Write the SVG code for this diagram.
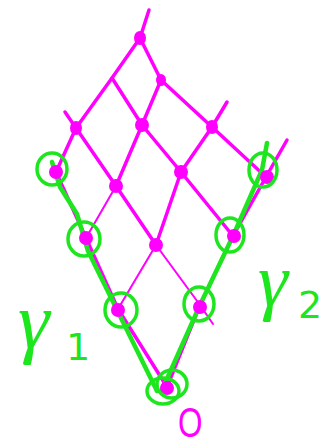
<svg xmlns="http://www.w3.org/2000/svg" width="332" height="448" viewBox="0 0 332 448">
<style>
.m{stroke:#f0f;stroke-width:3.5;fill:none;stroke-linecap:round;stroke-linejoin:round}
.mt{stroke:#f0f;stroke-width:2;fill:none;stroke-linecap:round}
.dot{fill:#f0f;stroke:#f0f;stroke-width:2}
.g{stroke:#1ee61e;stroke-width:4.5;fill:none;stroke-linecap:round;stroke-linejoin:round}
.gc{stroke:#1ee61e;stroke-width:3.5;fill:none}
.lbl{font-family:"Liberation Serif",serif;font-style:italic;fill:#1ee61e}
.num{font-family:"DejaVu Sans",sans-serif;fill:#1ee61e}
</style>
<rect width="332" height="448" fill="#fff"/>
<g id="connectors">
<polyline class="m" points="56,172 76,128 112,78 140,38 149,10"/>
<polyline class="mt" points="86,238 116,186"/>
<polyline class="m" points="116,186 142,125 161,80"/>
<polyline class="mt" points="118,309 156,245"/>
<polyline class="m" points="156,245 181,172 212,127 227,102"/>
<polyline class="m" points="167,387 200,305 233,236 266,177 287,140"/>
<polyline class="m" points="167,387 118,309 86,238 56,172"/>
<polyline class="mt" points="213,324 200,305 156,245"/>
<polyline class="m" points="156,245 116,186 76,128 65,112"/>
<polyline class="m" points="233,236 181,172 142,125 112,78"/>
<polyline class="m" points="266,177 212,127 161,80 140,38"/>
<polyline class="g" points="52,162 60,187 77,214 88,251 121,318 157,391"/>
<polyline class="g" points="162,390 200,305 233,236 262,170 267,143"/>
</g>
<g id="n33"><ellipse class="dot" cx="140" cy="38" rx="5" ry="6"/></g>
<g id="n23"><ellipse class="dot" cx="161" cy="80" rx="4" ry="5"/></g>
<g id="n31"><ellipse class="dot" cx="76" cy="128" rx="5" ry="6"/></g>
<g id="n22"><circle class="dot" cx="142" cy="125" r="6"/></g>
<g id="n13"><ellipse class="dot" cx="212" cy="127" rx="5" ry="6"/></g>
<g id="n21"><circle class="dot" cx="116" cy="186" r="6"/></g>
<g id="n12"><circle class="dot" cx="181" cy="172" r="6"/></g>
<g id="n11"><circle class="dot" cx="156" cy="245" r="6"/></g>
<g id="n30"><circle class="dot" cx="56" cy="172" r="6"/><ellipse class="gc" cx="52" cy="169" rx="15" ry="16"/></g>
<g id="n20"><circle class="dot" cx="86" cy="238" r="6"/><ellipse class="gc" cx="84" cy="239" rx="16" ry="17"/></g>
<g id="n10"><circle class="dot" cx="118" cy="310" r="6"/><ellipse class="gc" cx="121" cy="310" rx="16" ry="17"/></g>
<g id="n03"><circle class="dot" cx="267" cy="177" r="6"/><ellipse class="gc" cx="263" cy="170" rx="14" ry="17"/></g>
<g id="n02"><circle class="dot" cx="234" cy="236" r="6"/><ellipse class="gc" cx="230" cy="235" rx="14" ry="17"/></g>
<g id="n01"><circle class="dot" cx="200" cy="307" r="6"/><ellipse class="gc" cx="199" cy="304" rx="15" ry="17"/></g>
<g id="n00"><circle class="dot" cx="167" cy="388" r="6"/><ellipse class="gc" cx="172" cy="384" rx="15" ry="14"/><ellipse class="gc" cx="163" cy="391" rx="16" ry="13"/></g>
<text class="lbl" x="18" y="348" font-size="80">γ</text>
<text class="num" x="66" y="360" font-size="38">1</text>
<text class="lbl" x="258" y="306" font-size="76">γ</text>
<text class="num" x="298" y="318" font-size="38">2</text>
<text x="0" y="0" font-family="Liberation Sans,sans-serif" font-size="42" fill="#f0f" transform="translate(178,437) scale(0.75,1)">O</text>
</svg>
